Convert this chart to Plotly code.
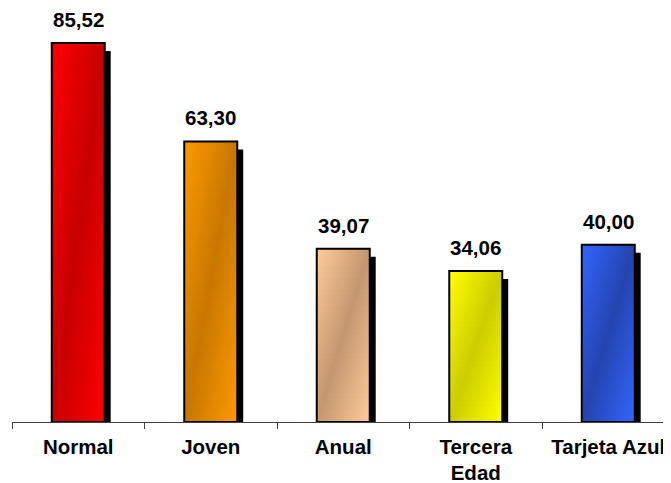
import plotly.graph_objects as go

categories = ["Normal", "Joven", "Anual", "Tercera<br>Edad", "Tarjeta Azul"]
values = [85.52, 63.30, 39.07, 34.06, 40.00]
value_labels = ["85,52", "63,30", "39,07", "34,06", "40,00"]
bright_colors = [(255, 0, 0), (255, 153, 0), (255, 204, 153), (255, 255, 0), (51, 102, 255)]
dark_colors = [(200, 0, 0), (199, 119, 0), (196, 150, 112), (204, 204, 0), (36, 68, 176)]

HALF_W = 0.2        # half bar width in category units
SH_DX = 0.045       # shadow offset (x, category units)
SH_DY = 0.9         # shadow offset (y, value units)
N_STRIPS = 30

def mix(c1, c2, t):
    return tuple(round(a + (b - a) * t) for a, b in zip(c1, c2))

def rgb(c):
    return "rgb(%d,%d,%d)" % c

def grad(bright, dark, u):
    # bright -> dark -> bright along u in [0,1]
    if u <= 0.5:
        return mix(bright, dark, u / 0.5)
    return mix(dark, bright, (u - 0.5) / 0.5)

fig = go.Figure()

# shadows
fig.add_trace(go.Bar(
    x=list(range(len(values))),
    y=[v - SH_DY for v in values],
    base=[-SH_DY] * len(values),
    width=2 * HALF_W,
    offset=-HALF_W + SH_DX,
    marker=dict(color="black", line=dict(width=0)),
    hoverinfo="skip", showlegend=False,
))

# gradient bodies (diagonal gradient approximated by horizontal strips)
for i, v in enumerate(values):
    x0, x1 = i - HALF_W, i + HALF_W
    for k in range(N_STRIPS):
        vc = (k + 0.5) / N_STRIPS
        ytop = v * (1 - k / N_STRIPS)
        ybot = max(0, v * (1 - (k + 1.6) / N_STRIPS))
        cs_left = grad(bright_colors[i], dark_colors[i], vc / 2)
        cs_right = grad(bright_colors[i], dark_colors[i], (1 + vc) / 2)
        s_dark = 1 - vc
        cscale = [[0, rgb(cs_left)]]
        if 0 < s_dark < 1:
            cscale.append([s_dark, rgb(dark_colors[i])])
        cscale.append([1, rgb(cs_right)])
        fig.add_trace(go.Scatter(
            x=[x0, x1, x1, x0, x0],
            y=[ybot, ybot, ytop, ytop, ybot],
            mode="lines", line=dict(width=0),
            fill="toself",
            fillgradient=dict(type="horizontal", colorscale=cscale),
            hoverinfo="skip", showlegend=False,
        ))
    # outline
    fig.add_trace(go.Scatter(
        x=[x0, x1, x1, x0, x0],
        y=[0, 0, v, v, 0],
        mode="lines", line=dict(color="black", width=2),
        hoverinfo="skip", showlegend=False,
    ))

for i, (v, lab) in enumerate(zip(values, value_labels)):
    fig.add_annotation(
        x=i, y=v, text="<b>%s</b>" % lab, showarrow=False,
        yanchor="bottom", yshift=10,
        font=dict(family="Liberation Sans, Arial", size=20.5, color="black"),
    )

fig.update_layout(
    width=671, height=483,
    margin=dict(l=4, r=0, t=12, b=69),
    paper_bgcolor="white", plot_bgcolor="white",
    showlegend=False,
    xaxis=dict(
        range=[-0.5, 4.534],
        tickvals=list(range(len(categories))),
        ticktext=["<b>%s</b>" % c for c in categories],
        ticks="", showgrid=False, zeroline=False,
        showline=True, linecolor="#404040", linewidth=1,
        tickfont=dict(family="Liberation Sans, Arial", size=20.5, color="black"),
        ticklabelstandoff=6,
        minor=dict(tickvals=[-0.5, 0.5, 1.5, 2.5, 3.5], ticks="outside",
                   ticklen=6, tickcolor="#404040", tickwidth=1, showgrid=False),
    ),
    yaxis=dict(range=[0, 90.7], visible=False, showgrid=False, zeroline=False),
)

fig.write_html("out.html")
